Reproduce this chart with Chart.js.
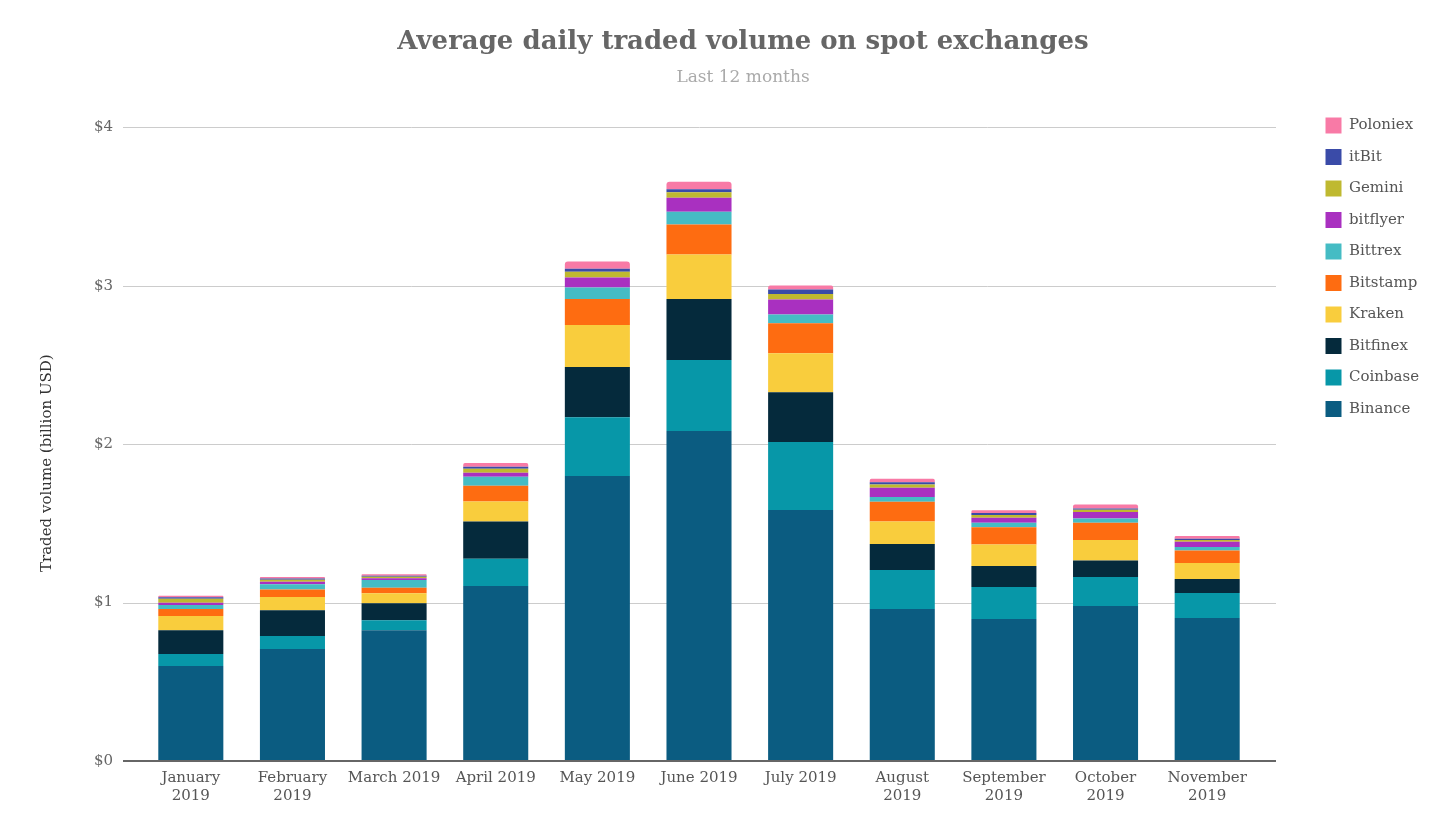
<!DOCTYPE html>
<html>
<head>
<meta charset="utf-8">
<script src="https://cdn.jsdelivr.net/npm/chart.js@4.4.1/dist/chart.umd.min.js"></script>
<style>
  html, body { margin: 0; padding: 0; background: #fff; }
</style>
</head>
<body>
<canvas id="myChart" width="1456" height="822"></canvas>
<script>
const months = [
  ['January', '2019'], ['February', '2019'], 'March 2019', 'April 2019', 'May 2019',
  'June 2019', 'July 2019', ['August', '2019'], ['September', '2019'], ['October', '2019'], ['November', '2019'],
];
const yTicks = [0, 1, 2, 3, 4];

// billion USD per day
const binance = [0.6, 0.707, 0.825, 1.104, 1.798, 2.082, 1.584, 0.959, 0.896, 0.978, 0.902];
const coinbase = [0.075, 0.082, 0.063, 0.172, 0.372, 0.448, 0.429, 0.246, 0.202, 0.183, 0.158];
const bitfinex = [0.15, 0.162, 0.107, 0.236, 0.316, 0.385, 0.315, 0.164, 0.132, 0.105, 0.088];
const kraken = [0.09, 0.084, 0.063, 0.126, 0.265, 0.281, 0.246, 0.143, 0.137, 0.128, 0.101];
const bitstamp = [0.044, 0.048, 0.035, 0.099, 0.164, 0.19, 0.189, 0.124, 0.109, 0.11, 0.08];
const bittrex = [0.025, 0.032, 0.049, 0.057, 0.073, 0.08, 0.055, 0.03, 0.027, 0.026, 0.021];
const bitflyer = [0.015, 0.016, 0.011, 0.025, 0.063, 0.088, 0.095, 0.058, 0.032, 0.042, 0.034];
const gemini = [0.025, 0.013, 0.01, 0.025, 0.036, 0.036, 0.035, 0.021, 0.017, 0.013, 0.01];
const itbit = [0.009, 0.007, 0.006, 0.013, 0.019, 0.019, 0.028, 0.015, 0.013, 0.009, 0.009];
const poloniex = [0.01, 0.01, 0.009, 0.023, 0.046, 0.046, 0.025, 0.021, 0.017, 0.025, 0.017];

const serif = 'DejaVu Serif';

function ds(label, data, color) {
  return {
    label: label,
    data: data,
    backgroundColor: color,
    borderWidth: 0,
    barPercentage: 0.64,
    categoryPercentage: 1,
  };
}

const datasets = [
  ds('Binance', binance, '#0b5c81'),
  ds('Coinbase', coinbase, '#0797a8'),
  ds('Bitfinex', bitfinex, '#052a3c'),
  ds('Kraken', kraken, '#f9cd3d'),
  ds('Bitstamp', bitstamp, '#fe6c11'),
  ds('Bittrex', bittrex, '#45bcc4'),
  ds('bitflyer', bitflyer, '#a930c0'),
  ds('Gemini', gemini, '#bfb930'),
  ds('itBit', itbit, '#3a4ba8'),
  ds('Poloniex', poloniex, '#f87aa6'),
];
datasets[9].borderRadius = { topLeft: 3, topRight: 3, bottomLeft: 0, bottomRight: 0 };

// grid lines run a little past the first and last bar slot
const gridLines = {
  id: 'gridLines',
  beforeDatasetsDraw(chart) {
    const { ctx, chartArea, scales } = chart;
    ctx.save();
    ctx.strokeStyle = '#cccccc';
    ctx.lineWidth = 1;
    yTicks.forEach((v) => {
      if (v === 0) return;
      const y = Math.round(scales.y.getPixelForValue(v)) + 0.5;
      ctx.beginPath();
      ctx.moveTo(chartArea.left - 17, y);
      ctx.lineTo(chartArea.right + 18, y);
      ctx.stroke();
    });
    ctx.restore();
  },
  afterDatasetsDraw(chart) {
    const { ctx, chartArea, scales } = chart;
    const y = Math.round(scales.y.getPixelForValue(0));
    ctx.save();
    ctx.strokeStyle = '#666666';
    ctx.lineWidth = 2;
    ctx.beginPath();
    ctx.moveTo(chartArea.left - 17, y);
    ctx.lineTo(chartArea.right + 18, y);
    ctx.stroke();
    ctx.restore();
  },
};

// keep the legend off to the right with some air between it and the bars
const legendPlace = {
  id: 'legendPlace',
  afterInit(chart) {
    const legend = chart.legend;
    if (!legend) return;
    const fit = legend.fit;
    legend.fit = function () {
      fit.call(this);
      this.width = 198;
    };
  },
  afterLayout(chart) {
    if (!chart.legend) return;
    chart.legend.left = 1310;
    chart.legend.top = 102;
  },
};

const chart = new Chart(document.getElementById('myChart'), {
  type: 'bar',
  data: { labels: months, datasets: datasets },
  plugins: [gridLines, legendPlace],
  options: {
    responsive: false,
    animation: false,
    layout: { padding: { left: 30, right: 0, top: 0, bottom: 9 } },
    plugins: {
      title: {
        display: true,
        text: 'Average daily traded volume on spot exchanges',
        color: '#666666',
        font: { family: serif, size: 26, weight: 'bold' },
        padding: { top: 26.4, bottom: 9.4 },
      },
      subtitle: {
        display: true,
        text: 'Last 12 months',
        color: '#aaaaaa',
        font: { family: serif, size: 17 },
        padding: { top: 0, bottom: 39.8 },
      },
      legend: {
        position: 'right',
        align: 'start',
        reverse: true,
        labels: {
          boxWidth: 16,
          boxHeight: 16,
          padding: 15.5,
          color: '#555555',
          font: { family: serif, size: 15 },
        },
      },
      tooltip: { enabled: false },
    },
    scales: {
      x: {
        stacked: true,
        grid: { display: false, drawTicks: false },
        border: { display: false },
        ticks: {
          autoSkip: false,
          maxRotation: 0,
          padding: 8,
          color: '#555555',
          font: { family: serif, size: 15 },
        },
      },
      y: {
        stacked: true,
        min: 0,
        max: 4,
        grid: { display: false, drawTicks: false },
        border: { display: false },
        ticks: {
          stepSize: 1,
          padding: 27,
          color: '#666666',
          font: { family: serif, size: 15 },
          callback: (v) => '$' + v,
        },
        title: {
          display: true,
          // trailing spaces nudge the rotated title down like the original
          text: 'Traded volume (billion USD)' + ' '.repeat(8),
          color: '#333333',
          font: { family: serif, size: 15 },
          padding: { top: 8, bottom: 0 },
        },
        afterFit(scale) {
          scale.width = 110;
        },
      },
    },
  },
});
</script>
</body>
</html>
